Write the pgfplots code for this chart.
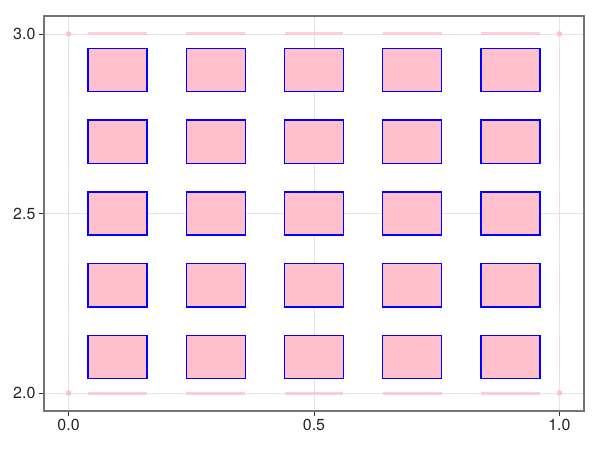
\documentclass[border=0pt]{standalone}
\usepackage{pgfplots}
\pgfplotsset{compat=1.18}
\usepackage{fontspec}
\setmainfont{TeX Gyre Heros}
\definecolor{mkpink}{RGB}{255,192,203}
\begin{document}
\begin{tikzpicture}
\begin{axis}[scale only axis, width=540pt, height=395pt,
 xmin=-0.05,xmax=1.05,ymin=1.95,ymax=3.05,
 xtick={0,0.5,1}, ytick={2,2.5,3},
 xticklabels={0.0,0.5,1.0}, yticklabels={2.0,2.5,3.0},
 tick align=outside, tick pos=left, major tick length=5pt,
 grid=major, grid style={black!10, line width=0.8pt},
 axis line style={black!55, line width=1.2pt},
 tick style={black!80, line width=0.8pt},
 ticklabel style={font=\fontsize{16}{18}\selectfont, text=black!85},
 /pgf/number format/assume math mode=true,
 unbounded coords=jump,
 rect/.style={fill=mkpink, draw=blue, line width=1.4pt}]
% faint pink lines along edges
\addplot[mkpink, line width=3pt, opacity=0.75] coordinates {(0.04,3) (0.16,3) (nan,nan) (0.24,3) (0.36,3) (nan,nan) (0.44,3) (0.56,3) (nan,nan) (0.64,3) (0.76,3) (nan,nan) (0.84,3) (0.96,3)};
\addplot[mkpink, line width=3pt, opacity=0.75] coordinates {(0.04,2) (0.16,2) (nan,nan) (0.24,2) (0.36,2) (nan,nan) (0.44,2) (0.56,2) (nan,nan) (0.64,2) (0.76,2) (nan,nan) (0.84,2) (0.96,2)};
\addplot[mkpink, line width=1.2pt, opacity=0.35] coordinates {(0,2.04) (0,2.16) (nan,nan) (0,2.24) (0,2.36) (nan,nan) (0,2.44) (0,2.56) (nan,nan) (0,2.64) (0,2.76) (nan,nan) (0,2.84) (0,2.96)};
\addplot[mkpink, line width=1.2pt, opacity=0.35] coordinates {(1,2.04) (1,2.16) (nan,nan) (1,2.24) (1,2.36) (nan,nan) (1,2.44) (1,2.56) (nan,nan) (1,2.64) (1,2.76) (nan,nan) (1,2.84) (1,2.96)};
% rectangles row y=2.1
\addplot[rect] coordinates {(0.04,2.04) (0.16,2.04) (0.16,2.16) (0.04,2.16)} --cycle;
\addplot[rect] coordinates {(0.24,2.04) (0.36,2.04) (0.36,2.16) (0.24,2.16)} --cycle;
\addplot[rect] coordinates {(0.44,2.04) (0.56,2.04) (0.56,2.16) (0.44,2.16)} --cycle;
\addplot[rect] coordinates {(0.64,2.04) (0.76,2.04) (0.76,2.16) (0.64,2.16)} --cycle;
\addplot[rect] coordinates {(0.84,2.04) (0.96,2.04) (0.96,2.16) (0.84,2.16)} --cycle;
% row y=2.3
\addplot[rect] coordinates {(0.04,2.24) (0.16,2.24) (0.16,2.36) (0.04,2.36)} --cycle;
\addplot[rect] coordinates {(0.24,2.24) (0.36,2.24) (0.36,2.36) (0.24,2.36)} --cycle;
\addplot[rect] coordinates {(0.44,2.24) (0.56,2.24) (0.56,2.36) (0.44,2.36)} --cycle;
\addplot[rect] coordinates {(0.64,2.24) (0.76,2.24) (0.76,2.36) (0.64,2.36)} --cycle;
\addplot[rect] coordinates {(0.84,2.24) (0.96,2.24) (0.96,2.36) (0.84,2.36)} --cycle;
% row y=2.5
\addplot[rect] coordinates {(0.04,2.44) (0.16,2.44) (0.16,2.56) (0.04,2.56)} --cycle;
\addplot[rect] coordinates {(0.24,2.44) (0.36,2.44) (0.36,2.56) (0.24,2.56)} --cycle;
\addplot[rect] coordinates {(0.44,2.44) (0.56,2.44) (0.56,2.56) (0.44,2.56)} --cycle;
\addplot[rect] coordinates {(0.64,2.44) (0.76,2.44) (0.76,2.56) (0.64,2.56)} --cycle;
\addplot[rect] coordinates {(0.84,2.44) (0.96,2.44) (0.96,2.56) (0.84,2.56)} --cycle;
% row y=2.7
\addplot[rect] coordinates {(0.04,2.64) (0.16,2.64) (0.16,2.76) (0.04,2.76)} --cycle;
\addplot[rect] coordinates {(0.24,2.64) (0.36,2.64) (0.36,2.76) (0.24,2.76)} --cycle;
\addplot[rect] coordinates {(0.44,2.64) (0.56,2.64) (0.56,2.76) (0.44,2.76)} --cycle;
\addplot[rect] coordinates {(0.64,2.64) (0.76,2.64) (0.76,2.76) (0.64,2.76)} --cycle;
\addplot[rect] coordinates {(0.84,2.64) (0.96,2.64) (0.96,2.76) (0.84,2.76)} --cycle;
% row y=2.9
\addplot[rect] coordinates {(0.04,2.84) (0.16,2.84) (0.16,2.96) (0.04,2.96)} --cycle;
\addplot[rect] coordinates {(0.24,2.84) (0.36,2.84) (0.36,2.96) (0.24,2.96)} --cycle;
\addplot[rect] coordinates {(0.44,2.84) (0.56,2.84) (0.56,2.96) (0.44,2.96)} --cycle;
\addplot[rect] coordinates {(0.64,2.84) (0.76,2.84) (0.76,2.96) (0.64,2.96)} --cycle;
\addplot[rect] coordinates {(0.84,2.84) (0.96,2.84) (0.96,2.96) (0.84,2.96)} --cycle;
% corner points
\addplot[only marks, mark=*, mark size=2.5pt, mkpink] coordinates {(0,2) (1,2) (0,3) (1,3)};
\end{axis}
\useasboundingbox (current axis.south west) ++(-44pt,-39pt) rectangle ([xshift=16pt,yshift=16pt]current axis.north east);
\end{tikzpicture}
\end{document}
